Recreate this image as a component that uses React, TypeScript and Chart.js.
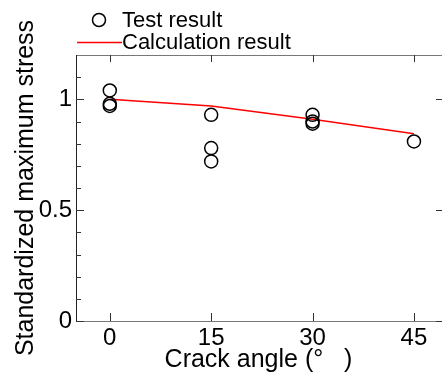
import React, { useEffect, useRef } from "react";
import { Chart, registerables } from "chart.js";

Chart.register(...registerables);

// ---- data ----
const testAngles = [0, 0, 0, 15, 15, 15, 30, 30, 30, 45];
const testStress = [1.04, 0.98, 0.97, 0.93, 0.78, 0.72, 0.93, 0.9, 0.89, 0.81];
const calcAngles = [0, 15, 30, 45];
const calcStress = [1.0, 0.97, 0.91, 0.845];
const xTickValues = [0, 15, 30, 45];
const yTickValues = [0, 0.5, 1];
const yMinorValues = [0.1, 0.2, 0.3, 0.4, 0.6, 0.7, 0.8, 0.9, 1.1];
const seriesNames = ["Test result", "Calculation result"];
const xTitle = "Crack angle (°   )";
const yTitle = "Standardized maximum stress";

const FONT = "'Liberation Sans', Arial, Helvetica, sans-serif";

const framePlugin = {
  id: "frame",
  afterDraw(chart: any) {
    const { ctx, chartArea } = chart;
    const { left, right, top, bottom } = chartArea;
    const xs = chart.scales.x;
    const ys = chart.scales.y;
    ctx.save();
    ctx.lineWidth = 1;
    ctx.strokeStyle = "#777";
    ctx.beginPath();
    ctx.moveTo(left, top + 0.5);
    ctx.lineTo(chart.width, top + 0.5);
    ctx.moveTo(left, bottom + 0.5);
    ctx.lineTo(chart.width, bottom + 0.5);
    ctx.stroke();
    ctx.strokeStyle = "#222";
    ctx.beginPath();
    ctx.moveTo(left + 0.5, top);
    ctx.lineTo(left + 0.5, bottom + 1);
    ctx.stroke();
    ctx.strokeStyle = "#333";
    ctx.beginPath();
    xTickValues.forEach((v) => {
      const px = Math.round(xs.getPixelForValue(v)) + 0.5;
      ctx.moveTo(px, bottom);
      ctx.lineTo(px, bottom - 8);
      ctx.moveTo(px, top);
      ctx.lineTo(px, top + 7);
    });
    yTickValues.forEach((v) => {
      const py = Math.round(ys.getPixelForValue(v)) + 0.5;
      ctx.moveTo(left, py);
      ctx.lineTo(left + 8, py);
      ctx.moveTo(right + 1, py);
      ctx.lineTo(right - 5, py);
    });
    yMinorValues.forEach((v) => {
      const py = Math.round(ys.getPixelForValue(v)) + 0.5;
      ctx.moveTo(left, py);
      ctx.lineTo(left + 5, py);
    });
    ctx.stroke();
    ctx.restore();
  },
};

const legendPlugin = {
  id: "customLegend",
  afterDraw(chart: any) {
    const { ctx } = chart;
    ctx.save();
    ctx.font = `22px ${FONT}`;
    ctx.textBaseline = "middle";
    ctx.fillStyle = "#000";
    ctx.strokeStyle = "#000";
    ctx.lineWidth = 1.5;
    ctx.beginPath();
    ctx.arc(99, 20, 6.5, 0, Math.PI * 2);
    ctx.stroke();
    ctx.fillText(seriesNames[0], 122, 21);
    ctx.strokeStyle = "#ff0000";
    ctx.lineWidth = 1.5;
    ctx.beginPath();
    ctx.moveTo(77, 42.5);
    ctx.lineTo(122, 42.5);
    ctx.stroke();
    ctx.fillText(seriesNames[1], 122, 43);
    ctx.restore();
  },
};

export default function App() {
  const ref = useRef<HTMLCanvasElement>(null);

  useEffect(() => {
    if (!ref.current) return;
    const chart = new Chart(ref.current, {
      type: "scatter",
      data: {
        datasets: [
          {
            label: seriesNames[0],
            data: testAngles.map((x, i) => ({ x, y: testStress[i] })),
            showLine: false,
            pointStyle: "circle",
            pointRadius: 6.5,
            pointBorderWidth: 1.5,
            borderColor: "#000",
            backgroundColor: "rgba(0,0,0,0)",
          },
          {
            label: seriesNames[1],
            data: calcAngles.map((x, i) => ({ x, y: calcStress[i] })),
            showLine: true,
            borderColor: "#ff0000",
            borderWidth: 1.5,
            pointRadius: 0,
            fill: false,
            tension: 0,
          },
        ],
      },
      options: {
        responsive: false,
        animation: false,
        events: [],
        layout: { autoPadding: false, padding: { top: 55, right: 1, left: 0, bottom: 0 } },
        plugins: {
          legend: { display: false },
          tooltip: { enabled: false },
          title: { display: false },
        },
        scales: {
          x: {
            type: "linear",
            min: -5,
            max: 49,
            grid: { display: false, drawTicks: false },
            border: { display: false },
            afterBuildTicks: (scale: any) => {
              scale.ticks = xTickValues.map((v) => ({ value: v }));
            },
            afterFit: (scale: any) => {
              scale.height = 56;
              scale.paddingLeft = 0;
              scale.paddingRight = 0;
            },
            ticks: {
              padding: 3,
              color: "#000",
              font: { family: FONT, size: 24 },
              callback: (v: any) => String(v),
            },
            title: {
              display: true,
              text: xTitle,
              color: "#000",
              font: { family: FONT, size: 25 },
              padding: { top: 0, bottom: 2 },
            },
          },
          y: {
            type: "linear",
            min: 0,
            max: 1.2,
            grid: { display: false, drawTicks: false },
            border: { display: false },
            afterBuildTicks: (scale: any) => {
              scale.ticks = yTickValues.map((v) => ({ value: v }));
            },
            afterFit: (scale: any) => {
              scale.width = 76;
              scale.paddingTop = 0;
              scale.paddingBottom = 0;
            },
            ticks: {
              padding: 4,
              color: "#000",
              font: { family: FONT, size: 24 },
              callback: (v: any) => String(v),
            },
            title: {
              display: true,
              text: yTitle,
              color: "#000",
              font: { family: FONT, size: 25 },
              padding: { top: 11, bottom: 0 },
            },
          },
        },
      },
      plugins: [framePlugin, legendPlugin],
    });
    return () => chart.destroy();
  }, []);

  return (
    <div style={{ position: "absolute", left: 0, top: 0, width: 442, height: 377, background: "#fff" }}>
      <canvas ref={ref} width={442} height={377} style={{ display: "block" }} />
    </div>
  );
}
